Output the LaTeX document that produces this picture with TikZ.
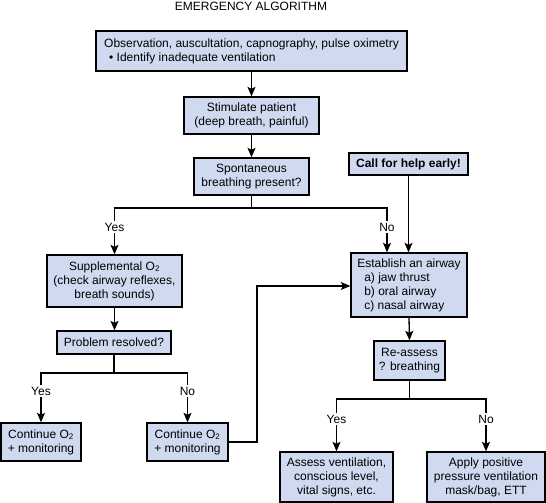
\documentclass[tikz,border=0pt]{standalone}
\usepackage{fontspec}
\setmainfont{Liberation Sans}
\usetikzlibrary{arrows.meta}
\definecolor{boxfill}{RGB}{207,218,240}
\begin{document}
\begin{tikzpicture}[x=1pt,y=-1pt,
  txt/.style={font=\fontsize{12}{14}\selectfont},
  box/.style={txt, draw=black, line width=1.3pt, fill=boxfill, inner sep=0pt, align=center},
  plain/.style={line width=1.3pt},
  conn/.style={line width=1.3pt, -{Stealth[length=9.5pt,width=8pt,inset=2pt]}},
  lbl/.style={txt, fill=white, inner sep=1.5pt}]
\useasboundingbox (0,0) rectangle (546,503);
\fill[white] (0,0) rectangle (546,503);

\node[txt] (title) at (251,6.5) {EMERGENCY ALGORITHM};

\node[box, align=left, minimum width=311pt, minimum height=40pt] (b1) at (251.5,51)
  {Observation, auscultation, capnography, pulse oximetry\\\hspace*{5pt}\textbullet\ Identify inadequate ventilation};
\node[box, minimum width=135pt, minimum height=37pt] (b2) at (251.5,115.5)
  {Stimulate patient\\(deep breath, painful)};
\node[box, minimum width=115pt, minimum height=37pt] (b3) at (251.5,176.5)
  {Spontaneous\\breathing present?};
\node[box, font=\fontsize{12}{14}\selectfont\bfseries, minimum width=119pt, minimum height=22pt] (call) at (408.5,164)
  {Call for help early!};
\node[box, minimum width=135pt, minimum height=52pt] (supp) at (114.5,281)
  {Supplemental O\textsubscript{2}\\(check airway reflexes,\\breath sounds)};
\node[box, align=left, minimum width=116pt, minimum height=64pt] (est) at (409,285)
  {Establish an airway\\\hspace*{7pt}a) jaw thrust\\\hspace*{7pt}b) oral airway\\\hspace*{7pt}c) nasal airway};
\node[box, minimum width=114pt, minimum height=23pt] (prob) at (114,342.5)
  {Problem resolved?};
\node[box, minimum width=80pt, minimum height=38pt] (contL) at (41,442)
  {Continue O\textsubscript{2}\\+ monitoring};
\node[box, minimum width=81pt, minimum height=38pt] (contR) at (187.5,442)
  {Continue O\textsubscript{2}\\+ monitoring};
\node[box, minimum width=71pt, minimum height=39pt] (re) at (409.5,360.5)
  {Re-assess\\? breathing};
\node[box, minimum width=113pt, minimum height=50pt] (assess) at (336.5,477)
  {Assess ventilation,\\conscious level,\\vital signs, etc.};
\node[box, minimum width=118pt, minimum height=50pt] (apply) at (486,477)
  {Apply positive\\pressure ventilation\\mask/bag, ETT};

\coordinate (j1) at (251.5,208);
\coordinate (noA) at (387,208);
\coordinate (j2) at (114,373);
\coordinate (j3) at (409.5,399);
\coordinate (turn) at (257,286);

\draw[conn] (b1) -- (b2);
\draw[conn] (b2) -- (b3);
\draw[plain] (b3.south) -- (j1);
\draw[conn] (j1) -| (supp.north);
\draw[conn] (j1) -- (noA) -- (noA |- est.north);
\draw[conn] (call.south) -- (call.south |- est.north);
\draw[conn] (supp.south) -- (supp.south |- prob.north);
\draw[plain] (prob.south) -- (j2);
\draw[conn] (j2) -| (contL.north);
\draw[conn] (j2) -| (contR.north);
\draw[conn] (contR.east) -| (turn) -- (turn -| est.west);
\draw[conn] (est.south) -- (re.north);
\draw[plain] (re.south) -- (j3);
\draw[conn] (j3) -| (assess.north);
\draw[conn] (j3) -| (apply.north);

\node[lbl] (yes1) at (114.5,227) {Yes};
\node[lbl] (no1) at (387,227) {No};
\node[lbl] (yes2) at (41,391) {Yes};
\node[lbl] (no2) at (187.5,391) {No};
\node[lbl] (yes3) at (336.5,419) {Yes};
\node[lbl] (no3) at (486,419) {No};
\end{tikzpicture}
\end{document}
